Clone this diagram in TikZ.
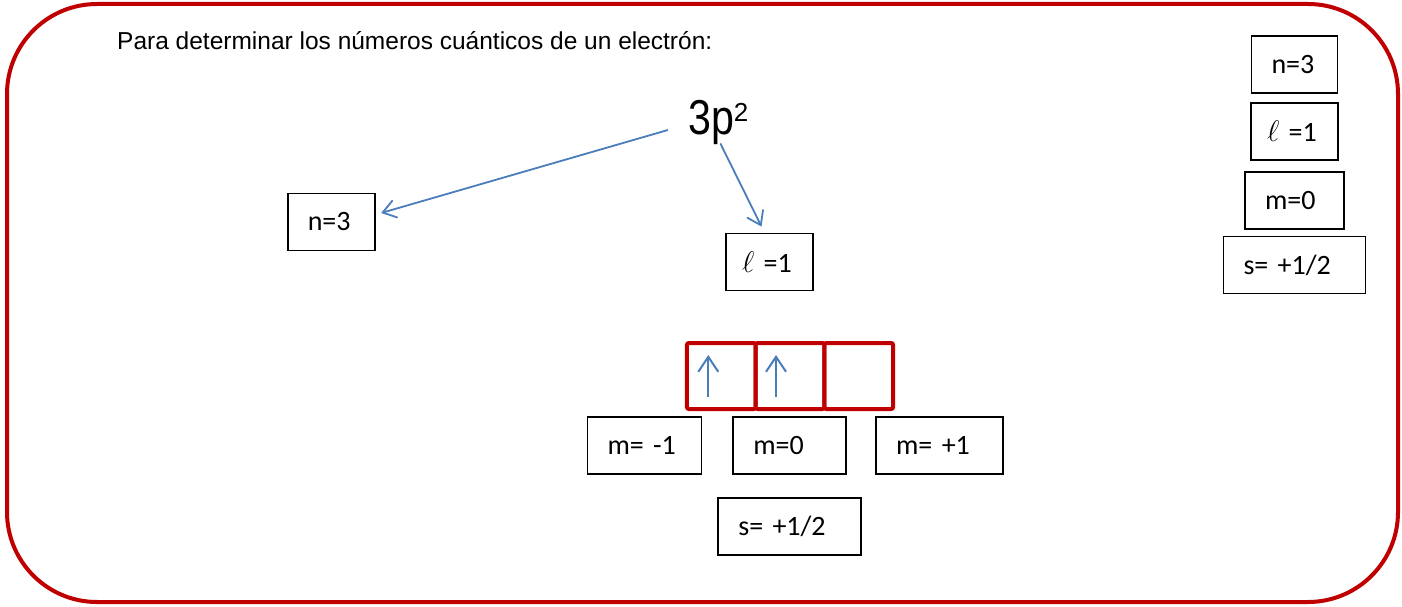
\documentclass[tikz,border=0pt]{standalone}
\usepackage{fontspec}
\setmainfont{Liberation Sans}
\newfontfamily\calib{Carlito}
\usepackage{graphicx}
\usetikzlibrary{arrows.meta,positioning}
\definecolor{dRed}{RGB}{192,0,0}
\definecolor{dBlue}{RGB}{74,126,187}
\newcommand{\ellq}{\scalebox{1.2}{$\ell$}}

\begin{document}
\begin{tikzpicture}[x=1pt,y=-1pt,
  qb/.style={draw,line width=1.8pt,minimum height=57pt,inner xsep=20pt,text width=#1,align=left,font=\calib\fontsize{28}{30}\selectfont},
  orb/.style={draw=dRed,line width=4pt,rounded corners=2pt,minimum width=68.7pt,minimum height=66pt,outer sep=0pt,inner sep=0pt},
  ar/.style={-{Straight Barb[length=13pt,width=18pt]},line width=1.8pt,dBlue},
  up/.style={-{Straight Barb[length=15pt,width=20pt]},line width=2pt,dBlue}]
\useasboundingbox (0,0) rectangle (1402,607);
\draw[dRed,line width=4pt,rounded corners=90pt] (7,4) rectangle (1398,602);
\node[anchor=base west,inner sep=0,font=\fontsize{24.5}{26}\selectfont] (hd) at (117,50) {Para determinar los números cuánticos de un electrón:};
\node[anchor=base west,inner sep=0] (t) at (688,135) {\scalebox{0.84}[1]{\fontsize{49}{50}\selectfont 3p}\raisebox{13pt}{\fontsize{26}{26}\selectfont 2}};
% numeros cuanticos
\node[qb=47.5pt] (n1) at (331.5,222) {n=3};
\node[qb=55pt,inner xsep=16pt] (l1) at (769.5,262) {\ellq{} =1};
\draw[ar] ([xshift=-20pt,yshift=-7pt]t.west) -- ([xshift=5pt,yshift=9pt]n1.east);
\draw[ar] ([xshift=2pt,yshift=2pt]t.south) -- ([xshift=-8pt,yshift=6pt]l1.north);
% orbitales p
\node[orb] (o1) at (721.3,376) {};
\node[orb,right=0pt of o1] (o2) {};
\node[orb,right=0pt of o2] (o3) {};
\foreach \o/\dx in {o1/-13,o2/-14}
  \draw[up] ([xshift=\dx pt,yshift=-21pt]\o.center) -- ([xshift=\dx pt,yshift=21pt]\o.center);
\node[qb=74pt] (mm) at (644.5,445.5) {m= -1};
\node[qb=73pt,right=30pt of mm] (mz) {m=0};
\node[qb=87pt,right=28pt of mz] (mp) {m= +1};
\node[qb=103pt,below=22pt of mz] (sp) {s= +1/2};
% resumen
\node[qb=46pt] (rn) at (1294.5,64.5) {n=3};
\node[qb=55pt,inner xsep=16pt,below=8pt of rn] (rl) {\ellq{} =1};
\node[qb=59pt,below=10pt of rl] (rm) {m=0};
\node[qb=102pt,below=6pt of rm] (rs) {s= +1/2};
\end{tikzpicture}
\end{document}
